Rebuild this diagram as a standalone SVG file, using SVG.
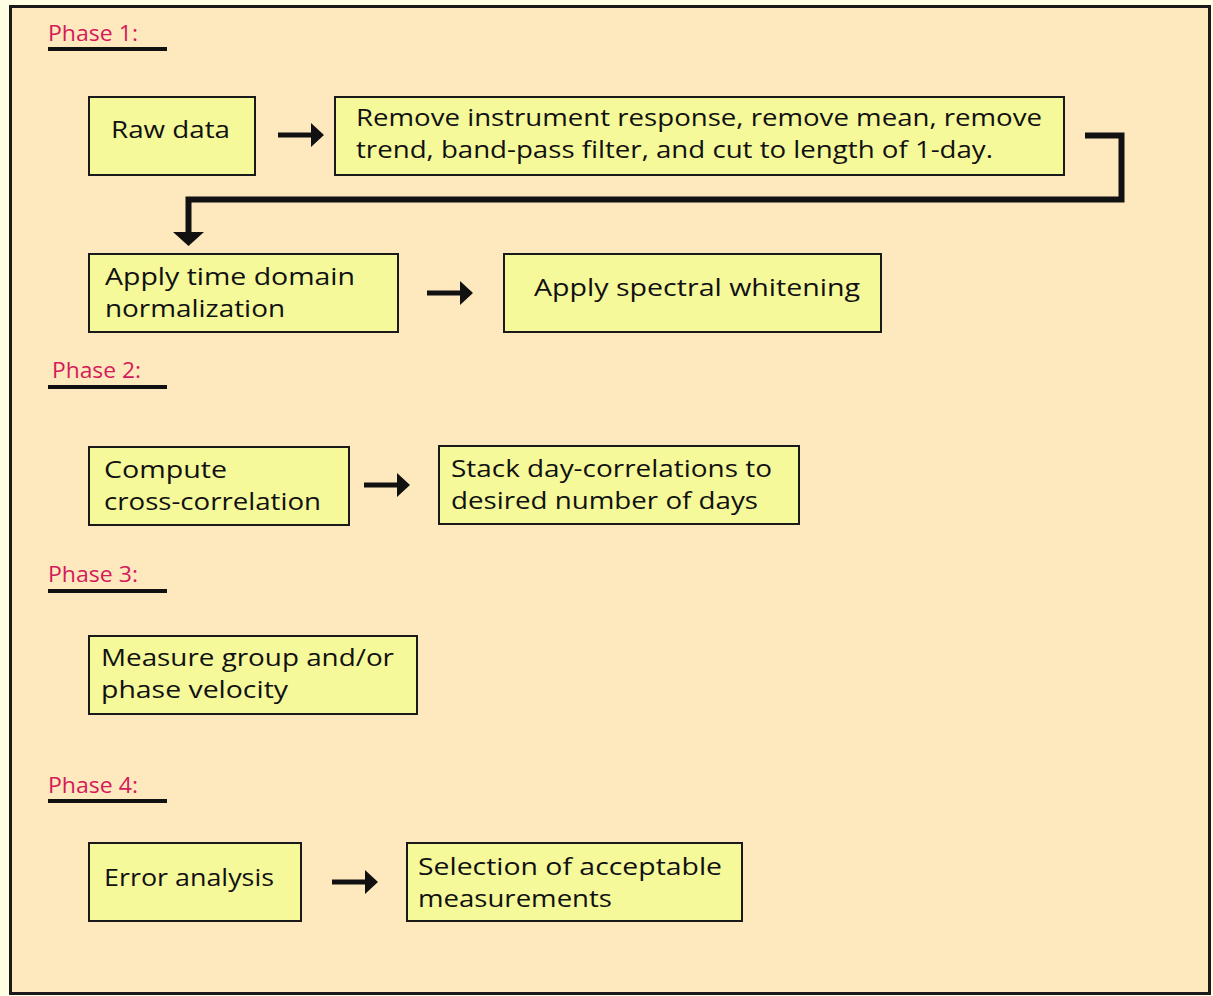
<svg xmlns="http://www.w3.org/2000/svg" width="1213" height="996" viewBox="0 0 1213 996">
<style>
.frame{fill:#fee9be;stroke:#1a1a1a;stroke-width:3}
.box{fill:#f5f99a;stroke:#1a1a1a;stroke-width:2}
.t{font-family:"Open Sans","Liberation Sans",sans-serif;font-size:24px;font-weight:500;fill:#111}
.ph{font-family:"Open Sans","Liberation Sans",sans-serif;font-size:22px;font-weight:500;fill:#d41a5a}
.ul{stroke:#111;stroke-width:4}
.ln{fill:none;stroke:#111;stroke-width:6;stroke-linejoin:miter}
.ar{fill:#111}
</style>
<defs>
<path id="rarrow" d="M0,-2.5 H33 V-12 L46,0 L33,12 V2.5 H0 Z"/>
</defs>
<rect x="0" y="0" width="1213" height="996" fill="#fffde2"/>
<rect class="frame" x="10.5" y="6.5" width="1199" height="987"/>

<g id="phase1">
<text class="ph" x="48" y="41" textLength="90" lengthAdjust="spacingAndGlyphs">Phase 1:</text>
<line class="ul" x1="48" y1="49" x2="167" y2="49"/>
</g>
<g id="phase2">
<text class="ph" x="52" y="378" textLength="89" lengthAdjust="spacingAndGlyphs">Phase 2:</text>
<line class="ul" x1="48" y1="387" x2="167" y2="387"/>
</g>
<g id="phase3">
<text class="ph" x="48" y="582" textLength="90" lengthAdjust="spacingAndGlyphs">Phase 3:</text>
<line class="ul" x1="48" y1="591" x2="167" y2="591"/>
</g>
<g id="phase4">
<text class="ph" x="48" y="793" textLength="90" lengthAdjust="spacingAndGlyphs">Phase 4:</text>
<line class="ul" x1="48" y1="801" x2="167" y2="801"/>
</g>

<g id="raw-data">
<rect class="box" x="89" y="97" width="166" height="78"/>
<text class="t" x="111" y="138" textLength="119" lengthAdjust="spacingAndGlyphs">Raw data</text>
</g>
<g id="preprocess">
<rect class="box" x="335" y="97" width="729" height="78"/>
<text class="t" x="356" y="126" textLength="686" lengthAdjust="spacingAndGlyphs">Remove instrument response, remove mean, remove</text>
<text class="t" x="356" y="158" textLength="637" lengthAdjust="spacingAndGlyphs">trend, band-pass filter, and cut to length of 1-day.</text>
</g>
<g id="time-norm">
<rect class="box" x="89" y="254" width="309" height="78"/>
<text class="t" x="105" y="285" textLength="250" lengthAdjust="spacingAndGlyphs">Apply time domain</text>
<text class="t" x="105" y="317" textLength="180" lengthAdjust="spacingAndGlyphs">normalization</text>
</g>
<g id="whitening">
<rect class="box" x="504" y="254" width="377" height="78"/>
<text class="t" x="534" y="296" textLength="326" lengthAdjust="spacingAndGlyphs">Apply spectral whitening</text>
</g>
<g id="cross-corr">
<rect class="box" x="89" y="447" width="260" height="78"/>
<text class="t" x="104" y="478" textLength="123" lengthAdjust="spacingAndGlyphs">Compute</text>
<text class="t" x="104" y="510" textLength="217" lengthAdjust="spacingAndGlyphs">cross-correlation</text>
</g>
<g id="stack">
<rect class="box" x="439" y="446" width="360" height="78"/>
<text class="t" x="451" y="477" textLength="321" lengthAdjust="spacingAndGlyphs">Stack day-correlations to</text>
<text class="t" x="451" y="509" textLength="307" lengthAdjust="spacingAndGlyphs">desired number of days</text>
</g>
<g id="measure">
<rect class="box" x="89" y="636" width="328" height="78"/>
<text class="t" x="101" y="666" textLength="293" lengthAdjust="spacingAndGlyphs">Measure group and/or</text>
<text class="t" x="101" y="698" textLength="187" lengthAdjust="spacingAndGlyphs">phase velocity</text>
</g>
<g id="error">
<rect class="box" x="89" y="843" width="212" height="78"/>
<text class="t" x="104" y="886" textLength="170" lengthAdjust="spacingAndGlyphs">Error analysis</text>
</g>
<g id="selection">
<rect class="box" x="407" y="843" width="335" height="78"/>
<text class="t" x="418" y="875" textLength="304" lengthAdjust="spacingAndGlyphs">Selection of acceptable</text>
<text class="t" x="418" y="907" textLength="194" lengthAdjust="spacingAndGlyphs">measurements</text>
</g>

<g id="connectors">
<use href="#rarrow" class="ar" transform="translate(278,135)"/>
<path class="ln" d="M1085,135.5 H1121.5 V199.5 H188.5 V234"/>
<polygon class="ar" points="173,232 204,232 188.5,246"/>
<use href="#rarrow" class="ar" transform="translate(427,293)"/>
<use href="#rarrow" class="ar" transform="translate(364,485)"/>
<use href="#rarrow" class="ar" transform="translate(332,882)"/>
</g>
</svg>
